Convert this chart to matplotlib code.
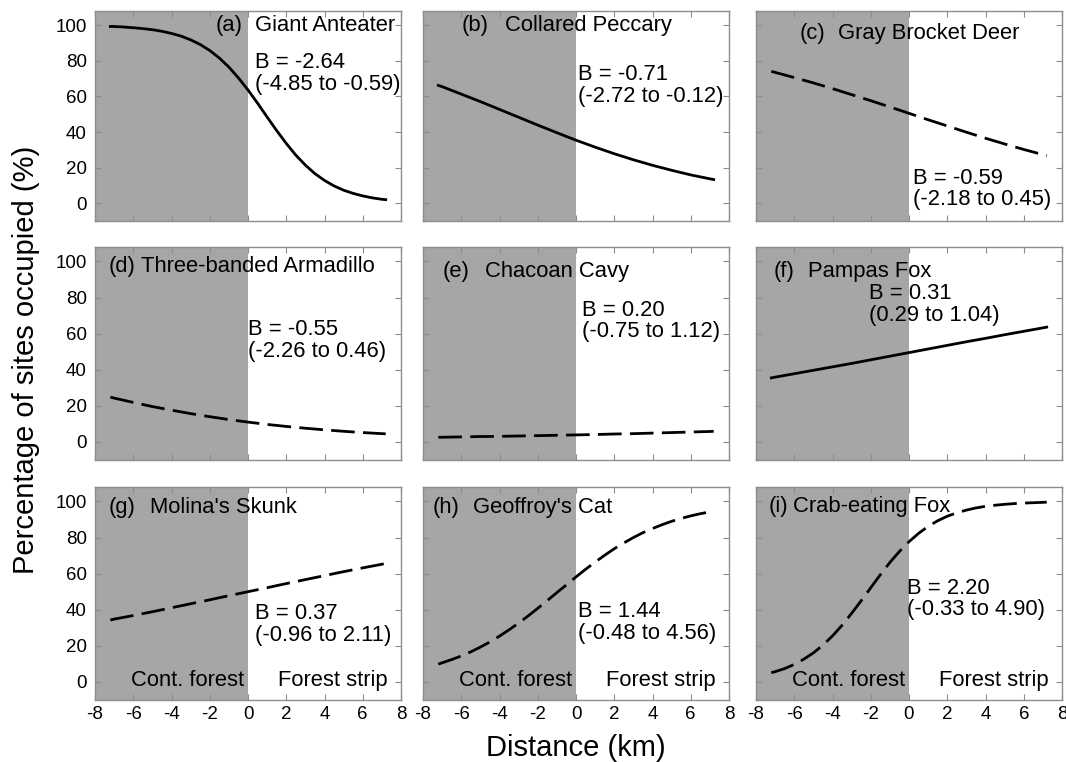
import matplotlib.pyplot as plt

plt.rcParams['font.family'] = ['Liberation Sans', 'DejaVu Sans']
plt.rcParams['axes.unicode_minus'] = False

# distance from the forest edge (km), negative = continuous forest
distance = [-7.2, -7, -6, -5, -4, -3, -2, -1, 0, 1, 2, 3, 4, 5, 6, 7, 7.2]
distance_fine = [-7.2, -7, -6.5, -6, -5.5, -5, -4.5, -4, -3.5, -3, -2.5, -2, -1.5, -1, -0.5,
                 0, 0.5, 1, 1.5, 2, 2.5, 3, 3.5, 4, 4.5, 5, 5.5, 6, 6.5, 7, 7.2]

# percentage of sites occupied
giant_anteater = [99.3, 99.3, 99.0, 98.6, 98.1, 97.5, 96.6, 95.4, 93.9, 91.8, 89.2, 85.8, 81.6,
                  76.5, 70.4, 63.6, 56.2, 48.4, 40.8, 33.6, 27.0, 21.4, 16.6, 12.8, 9.7, 7.3,
                  5.5, 4.1, 3.0, 2.2, 2.0]
collared_peccary = [66.2, 65.5, 61.3, 57.1, 52.7, 48.3, 43.9, 39.6, 35.4, 31.5, 27.8, 24.4, 21.3, 18.5, 15.9, 13.7, 13.3]
gray_brocket = [74.1, 73.5, 70.6, 67.6, 64.4, 61.0, 57.6, 54.1, 50.5, 46.9, 43.4, 39.9, 36.5, 33.3, 30.2, 27.3, 26.7]
armadillo = [24.8, 24.3, 21.9, 19.6, 17.6, 15.7, 14.0, 12.4, 11.0, 9.7, 8.6, 7.6, 6.7, 5.9, 5.2, 4.6, 4.5]
chacoan_cavy = [2.6, 2.6, 2.8, 3.0, 3.1, 3.3, 3.5, 3.7, 3.9, 4.1, 4.4, 4.6, 4.9, 5.2, 5.5, 5.8, 5.9]
pampas_fox = [35.5, 35.9, 37.8, 39.7, 41.6, 43.5, 45.5, 47.5, 49.5, 51.5, 53.5, 55.5, 57.4, 59.4, 61.3, 63.2, 63.6]
molinas_skunk = [34.3, 34.8, 36.8, 38.9, 41.1, 43.3, 45.5, 47.8, 50.0, 52.2, 54.5, 56.7, 58.9, 61.1, 63.2, 65.2, 65.7]
geoffroys_cat = [9.9, 10.6, 12.4, 14.4, 16.7, 19.3, 22.2, 25.4, 28.9, 32.6, 36.6, 40.8, 45.1,
                 49.5, 53.8, 58.2, 62.4, 66.4, 70.2, 73.8, 77.0, 80.0, 82.7, 85.0, 87.1, 89.0,
                 90.6, 92.0, 93.2, 94.2, 94.6]
crab_eating_fox = [5.1, 5.7, 7.4, 9.7, 12.6, 16.1, 20.4, 25.5, 31.4, 38.0, 45.0, 52.2, 59.4,
                   66.2, 72.3, 77.7, 82.3, 86.2, 89.3, 91.8, 93.7, 95.2, 96.4, 97.3, 97.9, 98.4,
                   98.8, 99.1, 99.3, 99.5, 99.6]

series = [giant_anteater, collared_peccary, gray_brocket, armadillo, chacoan_cavy,
          pampas_fox, molinas_skunk, geoffroys_cat, crab_eating_fox]
letters = ['(a)', '(b)', '(c)', '(d)', '(e)', '(f)', '(g)', '(h)', '(i)']
names = ['Giant Anteater', 'Collared Peccary', 'Gray Brocket Deer',
         'Three-banded Armadillo', 'Chacoan Cavy', 'Pampas Fox',
         "Molina's Skunk", "Geoffroy's Cat", 'Crab-eating Fox']
estimates = ['-2.64', '-0.71', '-0.59', '-0.55', '0.20', '0.31', '0.37', '1.44', '2.20']
intervals = ['(-4.85 to -0.59)', '(-2.72 to -0.12)', '(-2.18 to 0.45)',
             '(-2.26 to 0.46)', '(-0.75 to 1.12)', '(0.29 to 1.04)',
             '(-0.96 to 2.11)', '(-0.48 to 4.56)', '(-0.33 to 4.90)']
solid = [True, True, False, False, False, True, False, False, False]

# label placement (data coords): letter x, name x, title y, B x, B y
letter_x = [-1.7, -6.0, -5.7, -7.3, -6.95, -7.1, -7.3, -7.5, -7.35]
name_x = [0.35, -3.7, -3.7, -5.6, -4.75, -5.3, -5.1, -5.4, -6.05]
title_y = [100, 100, 95.5, 97, 94.5, 94.5, 96.4, 96.4, 97]
b_x = [0.35, 0.1, 0.2, 0.0, 0.3, -2.1, 0.35, 0.1, -0.1]
b_y = [73, 66, 8, 56, 67, 76, 32, 33, 46]

W, H = 1066, 762
fig = plt.figure(figsize=(W / 100, H / 100), dpi=100)

col_left = [95, 423, 756]
col_w = 306
row_top = [11, 247, 487]
row_bot = [221, 460, 700]

edge = '#8c8c8c'
for i in range(9):
    r, c = divmod(i, 3)
    ax = fig.add_axes([col_left[c] / W, 1 - row_bot[r] / H, col_w / W,
                       (row_bot[r] - row_top[r]) / H])
    ax.axvspan(-8, 0, color='#a6a6a6', lw=0, zorder=0)
    ls = '-' if solid[i] else (0, (8.5, 3))
    xs = distance_fine if len(series[i]) == len(distance_fine) else distance
    ax.plot(xs, series[i], color='black', lw=2, linestyle=ls, zorder=3)
    ax.set_xlim(-8, 8)
    ax.set_ylim(-10, 108)
    ax.set_xticks(range(-8, 9, 2))
    ax.set_yticks(range(0, 101, 20))
    ax.tick_params(direction='in', top=True, right=True, length=4, width=0.8,
                   color=edge, labelsize=13.5, pad=4)
    ax.tick_params(axis='y', pad=6)
    for s in ax.spines.values():
        s.set_color(edge)
        s.set_linewidth(1)
    if c != 0:
        ax.set_yticklabels([])
    if r != 2:
        ax.set_xticklabels([])

    ax.text(letter_x[i], title_y[i], letters[i], fontsize=15.8, va='center', zorder=4)
    ax.text(name_x[i], title_y[i], names[i], fontsize=15.8, va='center', zorder=4)
    ax.text(b_x[i], b_y[i], 'B = ' + estimates[i] + '\n' + intervals[i],
            fontsize=15.8, va='center', linespacing=1.05, zorder=4)
    if r == 2:
        ax.text(-0.2, 1, 'Cont. forest', fontsize=15.8, ha='right', va='center', zorder=4)
        ax.text(7.3, 1, 'Forest strip', fontsize=15.8, ha='right', va='center', zorder=4)

fig.text(576 / W, 1 - 748 / H, 'Distance (km)', fontsize=21, ha='center', va='center')
fig.text(26 / W, 1 - 360 / H, 'Percentage of sites occupied (%)', fontsize=21,
         ha='center', va='center', rotation=90)

fig.savefig('out.png', dpi=100)
